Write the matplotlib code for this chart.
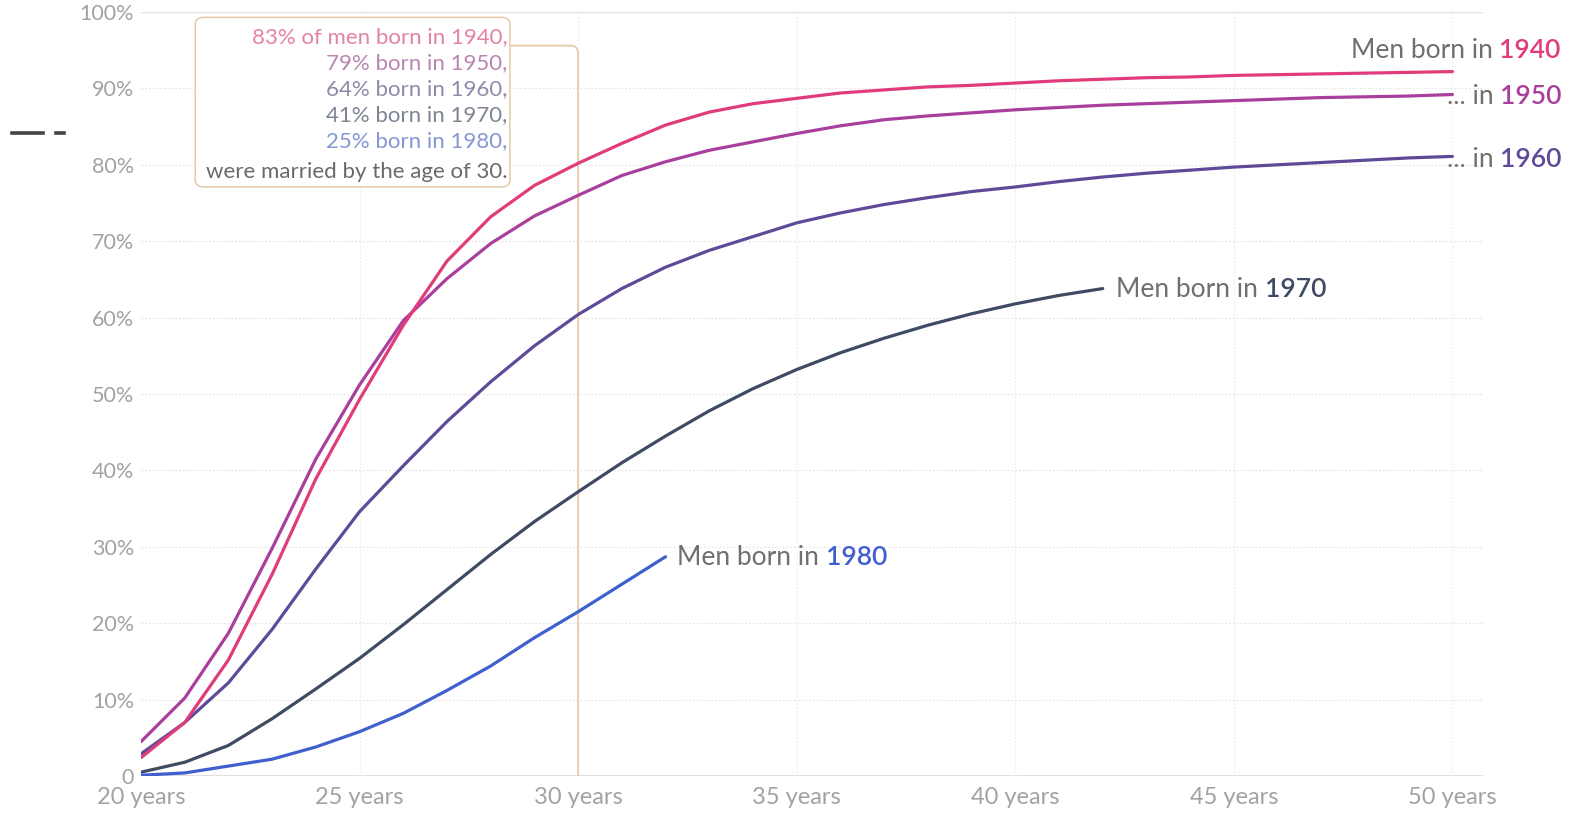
import matplotlib
matplotlib.use("Agg")
import matplotlib.pyplot as plt
from matplotlib.path import Path
from matplotlib.patches import PathPatch, FancyBboxPatch
from matplotlib.lines import Line2D

plt.rcParams['font.family'] = ['Lato', 'DejaVu Sans']

# ---------------- data ----------------
ages_full = list(range(20, 51))
ages_1970 = list(range(20, 43))
ages_1980 = list(range(20, 33))

men_1940 = [2.4, 7.0, 15.2, 26.4, 38.9, 49.3, 59.0, 67.4, 73.2, 77.3, 80.2,
            82.8, 85.2, 86.9, 88.0, 88.7, 89.4, 89.8, 90.2, 90.4, 90.7,
            91.0, 91.2, 91.4, 91.5, 91.7, 91.8, 91.9, 92.0, 92.1, 92.2]
men_1950 = [4.5, 10.2, 18.7, 29.8, 41.5, 51.2, 59.6, 65.1, 69.7, 73.3, 76.0,
            78.6, 80.4, 81.9, 83.0, 84.1, 85.1, 85.9, 86.4, 86.8, 87.2,
            87.5, 87.8, 88.0, 88.2, 88.4, 88.6, 88.8, 88.9, 89.0, 89.2]
men_1960 = [2.9, 7.0, 12.2, 19.2, 27.1, 34.6, 40.6, 46.4, 51.6, 56.3, 60.4,
            63.8, 66.6, 68.8, 70.6, 72.4, 73.7, 74.8, 75.7, 76.5, 77.1,
            77.8, 78.4, 78.9, 79.3, 79.7, 80.0, 80.3, 80.6, 80.9, 81.1]
men_1970 = [0.5, 1.8, 4.0, 7.5, 11.4, 15.4, 19.8, 24.4, 29.0, 33.3, 37.2,
            41.0, 44.5, 47.8, 50.7, 53.2, 55.4, 57.3, 59.0, 60.5, 61.8,
            62.9, 63.8]
men_1980 = [0.1, 0.4, 1.3, 2.2, 3.8, 5.8, 8.2, 11.2, 14.4, 18.1, 21.5,
            25.1, 28.7]

x_ticks = [20, 25, 30, 35, 40, 45, 50]
x_tick_labels = ["20 years", "25 years", "30 years", "35 years",
                 "40 years", "45 years", "50 years"]
y_ticks = [0, 10, 20, 30, 40, 50, 60, 70, 80, 90, 100]
y_tick_labels = ["0", "10%", "20%", "30%", "40%", "50%", "60%", "70%",
                 "80%", "90%", "100%"]

annotation_lines = ["83% of men born in 1940,", "79% born in 1950,",
                    "64% born in 1960,", "41% born in 1970,",
                    "25% born in 1980,", "were married by the age of 30."]
highlight_age = 30

# ---------------- style ----------------
c1940 = '#e03c7b'
c1950 = '#a93f9c'
c1960 = '#5f4a9a'
c1970 = '#3e4b63'
c1980 = '#3f5fcf'
label_gray = '#707070'
tick_gray = '#a2a2a2'
tan = '#e6cba8'

W, H = 1571, 813
fig = plt.figure(figsize=(W / 100, H / 100), dpi=100)
ax = fig.add_axes([141 / W, 1 - 776 / H, (1483 - 141) / W, (776 - 12) / H])
ax.set_xlim(20, 50.7)
ax.set_ylim(0, 100)

for s in ax.spines.values():
    s.set_visible(False)

# grid
for yv in y_ticks[1:-1]:
    ax.axhline(yv, color='#e6e6e6', lw=0.9, ls=(0, (1.5, 1.5)), zorder=0)
ax.axhline(100, color='#e2e2e2', lw=1.0, zorder=0)
ax.axhline(0, color='#d9d9d9', lw=1.2, zorder=0)
for xv in x_ticks[1:]:
    ax.axvline(xv, color='#eeeeee', lw=0.9, ls=(0, (1.5, 1.5)), zorder=0)

ax.set_xticks(x_ticks)
ax.set_xticklabels(x_tick_labels)
ax.set_yticks(y_ticks)
ax.set_yticklabels(y_tick_labels)
ax.tick_params(axis='y', length=0, colors=tick_gray, labelsize=15.5, pad=5)
ax.tick_params(axis='x', length=0, colors=tick_gray, labelsize=17, pad=8)

# vertical highlight at 30 with rounded connector to annotation box
box_left, box_right = 21.24, 28.44
box_bottom, box_top = 77.1, 99.3
conn_y = 95.6
verts = [(box_right, conn_y), (highlight_age - 0.15, conn_y),
         (highlight_age, conn_y), (highlight_age, conn_y - 1.2),
         (highlight_age, 0)]
codes = [Path.MOVETO, Path.LINETO, Path.CURVE3, Path.CURVE3, Path.LINETO]
ax.add_patch(PathPatch(Path(verts, codes), fill=False, edgecolor=tan,
                       lw=1.3, zorder=1))

# lines
ax.plot(ages_full, men_1960, color=c1960, lw=2.3, zorder=3,
        solid_capstyle='round')
ax.plot(ages_full, men_1950, color=c1950, lw=2.3, zorder=4,
        solid_capstyle='round')
ax.plot(ages_full, men_1940, color=c1940, lw=2.3, zorder=5,
        solid_capstyle='round')
ax.plot(ages_1970, men_1970, color=c1970, lw=2.3, zorder=3,
        solid_capstyle='round')
ax.plot(ages_1980, men_1980, color=c1980, lw=2.3, zorder=3,
        solid_capstyle='round')

# annotation box
box = FancyBboxPatch((box_left, box_bottom), box_right - box_left,
                     box_top - box_bottom,
                     boxstyle='round,pad=0,rounding_size=0.2',
                     mutation_aspect=4.5,
                     facecolor='white', edgecolor=tan, lw=1.1, zorder=6)
ax.add_patch(box)
ann_colors = ['#e482a6', '#b985ae', '#9189aa', '#7e8494', '#8596d3', '#6a6a6a']
ann_y = [96.7, 93.3, 89.9, 86.5, 83.1, 79.1]
for txt, col, yy in zip(annotation_lines, ann_colors, ann_y):
    ax.text(28.38, yy, txt, ha='right', va='center', fontsize=16,
            color=col, zorder=7)


def two_part(x, y, first, second, col2):
    t1 = ax.text(x, y, first, ha='left', va='center', fontsize=19,
                 color=label_gray, clip_on=False, zorder=8)
    ax.annotate(second, xy=(1, 0), xycoords=t1, ha='left', va='bottom',
                fontsize=19, color=col2, fontweight='semibold',
                annotation_clip=False, zorder=8)


two_part(47.67, 94.9, "Men born in ", "1940", c1940)
two_part(49.87, 89.0, "... in ", "1950", c1950)
two_part(49.87, 80.7, "... in ", "1960", c1960)
two_part(42.31, 63.7, "Men born in ", "1970", c1970)
two_part(32.27, 28.6, "Men born in ", "1980", c1980)

# stray dash mark at left
fig.add_artist(Line2D([12 / W, 43 / W], [1 - 133 / H, 1 - 133 / H],
                      color='#444444', lw=2.6))
fig.add_artist(Line2D([56 / W, 64 / W], [1 - 133 / H, 1 - 133 / H],
                      color='#444444', lw=2.6))

fig.savefig('out.png', dpi=100, facecolor='white')
